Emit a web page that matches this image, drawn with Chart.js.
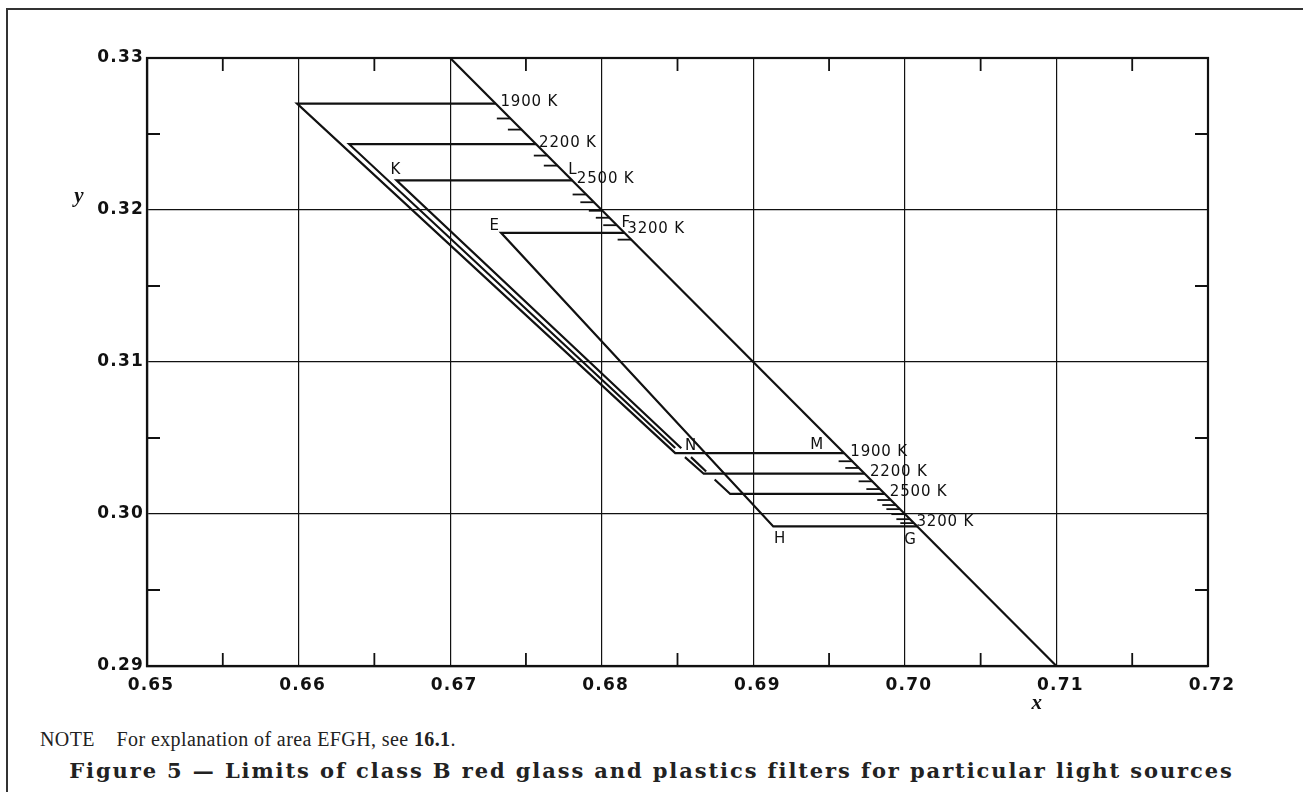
<!DOCTYPE html>
<html>
<head>
<meta charset="utf-8">
<script src="https://cdn.jsdelivr.net/npm/chart.js@4/dist/chart.umd.min.js"></script>
<style>
html,body{margin:0;padding:0;background:#fff;width:1303px;height:792px;overflow:hidden;}
#frame{position:absolute;left:6px;top:8px;width:1320px;height:820px;border-left:2px solid #333;border-top:2px solid #333;}
#c{position:absolute;left:0;top:0;}
#note{position:absolute;left:40px;top:729px;font-family:"Liberation Serif",serif;font-size:20px;line-height:20px;letter-spacing:0.4px;color:#222;white-space:pre;}
#cap{position:absolute;left:0;width:1303px;top:760px;text-align:center;font-family:"DejaVu Serif",serif;font-weight:bold;font-size:21px;line-height:22px;letter-spacing:1.9px;color:#222;white-space:nowrap;}
</style>
</head>
<body>
<div id="frame"></div>
<canvas id="c" width="1303" height="720"></canvas>
<div id="note">NOTE    For explanation of area EFGH, see <b>16.1</b>.</div>
<div id="cap">Figure 5 — Limits of class B red glass and plastics filters for particular light sources</div>
<script>
// ---- axis tick labels ----
const xTickLabels = ['0.65','0.66','0.67','0.68','0.69','0.70','0.71','0.72'];
const yTickLabels = ['0.29','0.30','0.31','0.32','0.33'];
const xMinor = [0.655,0.665,0.675,0.685,0.695,0.705,0.715];
const yMinor = [0.295,0.305,0.315,0.325];

// ---- spectrum locus boundary (x + y = 1) ----
const locusX = [0.67, 0.71];
const locusY = [0.33, 0.29];

// ---- zones for each light source temperature ----
const temps = ['1900 K','2200 K','2500 K','3200 K'];
const upperY    = [0.32700, 0.32433, 0.32195, 0.31850];
const upperEndX = [0.67300, 0.67567, 0.67805, 0.68150];
const lowerY    = [0.30401, 0.30265, 0.30132, 0.29918];
const lowerEndX = [0.69599, 0.69735, 0.69868, 0.70082];
// slanted sides (null = break in the drawn line)
const sideX = [
  [0.65990, 0.68485],
  [0.66334, 0.68485, null, 0.68549, 0.68673],
  [0.66646, 0.68525, null, 0.68589, 0.68689, null, 0.68745, 0.68848],
  [0.67336, 0.69132]
];
const sideY = [
  [0.32700, 0.30401],
  [0.32433, 0.30434, null, 0.30374, 0.30265],
  [0.32195, 0.30433, null, 0.30374, 0.30280, null, 0.30227, 0.30132],
  [0.31850, 0.29918]
];

// ---- intermediate temperature hatch marks along the locus ----
const hatchTopY    = [0.32602, 0.32529, 0.32358, 0.32292, 0.32102, 0.32051, 0.31995, 0.31949, 0.31900, 0.31805];
const hatchBottomY = [0.30347, 0.30303, 0.30215, 0.30164, 0.30092, 0.30059, 0.30032, 0.29999, 0.29966, 0.29940];

// ---- text labels (left edge x, centre y) ----
const labelText = ['1900 K','2200 K','2500 K','3200 K','K','L','E','F',
                   '1900 K','2200 K','2500 K','3200 K','N','M','H','G'];
const labelX = [0.67332,0.67587,0.67836,0.68169,0.66607,0.67780,0.67259,0.68130,
                0.69640,0.69770,0.69901,0.70077,0.68550,0.69376,0.69137,0.69996];
const labelY = [0.32708,0.32438,0.32204,0.31875,0.32262,0.32265,0.31893,0.31912,
                0.30410,0.30277,0.30147,0.29944,0.30446,0.30452,0.29834,0.29826];

const HATCH_LEN = 0.0009;
function locusXAt(yv){
  return locusX[0] + (yv - locusY[0]) * (locusX[1]-locusX[0]) / (locusY[1]-locusY[0]);
}

const lineStyle = {showLine:true, borderColor:'#111', borderWidth:2.2, pointRadius:0, fill:false, tension:0};
const datasets = [];
datasets.push(Object.assign({data: locusX.map((v,i)=>({x:v,y:locusY[i]}))}, lineStyle));
temps.forEach((t,k)=>{
  let seg = [{x:upperEndX[k], y:upperY[k]}];
  sideX[k].forEach((v,i)=>{
    if (v === null) { datasets.push(Object.assign({data:seg}, lineStyle)); seg = []; }
    else seg.push({x:v, y:sideY[k][i]});
  });
  seg.push({x:lowerEndX[k], y:lowerY[k]});
  datasets.push(Object.assign({data:seg}, lineStyle));
});
hatchTopY.concat(hatchBottomY).forEach(v=>{
  const xe = locusXAt(v);
  datasets.push(Object.assign({data:[{x:xe-HATCH_LEN,y:v},{x:xe,y:v}]}, lineStyle, {borderWidth:1.8}));
});

const TICK_SPACING = '1.2px';
const decor = {
  id:'decor',
  beforeDraw(chart){ chart.ctx.letterSpacing = TICK_SPACING; },
  afterDatasetsDraw(chart){
    const {ctx, chartArea:a, scales:{x, y}} = chart;
    ctx.save();
    ctx.strokeStyle = '#111';
    ctx.lineWidth = 2.2;
    ctx.strokeRect(a.left, a.top, a.right-a.left, a.bottom-a.top);
    const TL = 13;
    ctx.lineWidth = 1.8;
    ctx.beginPath();
    xMinor.forEach(v=>{
      const p = x.getPixelForValue(v);
      ctx.moveTo(p, a.top); ctx.lineTo(p, a.top+TL);
      ctx.moveTo(p, a.bottom); ctx.lineTo(p, a.bottom-TL);
    });
    yMinor.forEach(v=>{
      const p = y.getPixelForValue(v);
      ctx.moveTo(a.left, p); ctx.lineTo(a.left+TL, p);
      ctx.moveTo(a.right, p); ctx.lineTo(a.right-TL, p);
    });
    ctx.stroke();
    ctx.fillStyle = '#111';
    ctx.letterSpacing = '0.8px';
    ctx.font = '15px "DejaVu Sans"';
    ctx.textAlign = 'left';
    ctx.textBaseline = 'middle';
    labelText.forEach((t,i)=>{
      ctx.fillText(t, x.getPixelForValue(labelX[i]), y.getPixelForValue(labelY[i]));
    });
    ctx.letterSpacing = '0px';
    ctx.font = 'italic bold 21px "Liberation Serif"';
    ctx.textAlign = 'center';
    ctx.fillText('y', a.left - 68, y.getPixelForValue(0.32) - 13);
    ctx.fillText('x', x.getPixelForValue(0.7087), a.bottom + 38);
    ctx.restore();
    ctx.letterSpacing = TICK_SPACING;
  }
};

new Chart(document.getElementById('c'), {
  type: 'scatter',
  data: {datasets},
  options: {
    responsive:false,
    animation:false,
    events:[],
    layout:{padding:{top:58, right:95, left:0, bottom:0}},
    plugins:{legend:{display:false}, tooltip:{enabled:false}},
    scales:{
      x:{
        type:'linear', min:0.65, max:0.72,
        afterBuildTicks(s){ s.ticks = xTickLabels.map(v=>({value:parseFloat(v)})); },
        afterFit(s){ s.height = 54; },
        ticks:{ callback:(v,i)=>xTickLabels[i], color:'#111', padding:9, labelOffset:4,
                font:{family:'"DejaVu Sans"', size:17, weight:'bold'}, maxRotation:0, autoSkip:false },
        grid:{ color:'#111', lineWidth:1.2, drawTicks:false },
        border:{ color:'#111', width:2.2 }
      },
      y:{
        type:'linear', min:0.29, max:0.33,
        afterBuildTicks(s){ s.ticks = yTickLabels.map(v=>({value:parseFloat(v)})); },
        afterFit(s){ s.width = 147; },
        ticks:{ callback:(v,i)=>yTickLabels[i], color:'#111', padding:3,
                font:{family:'"DejaVu Sans"', size:17, weight:'bold'} },
        grid:{ color:'#111', lineWidth:1.2, drawTicks:false },
        border:{ color:'#111', width:2.2 }
      }
    }
  },
  plugins:[decor]
});
</script>
</body>
</html>
